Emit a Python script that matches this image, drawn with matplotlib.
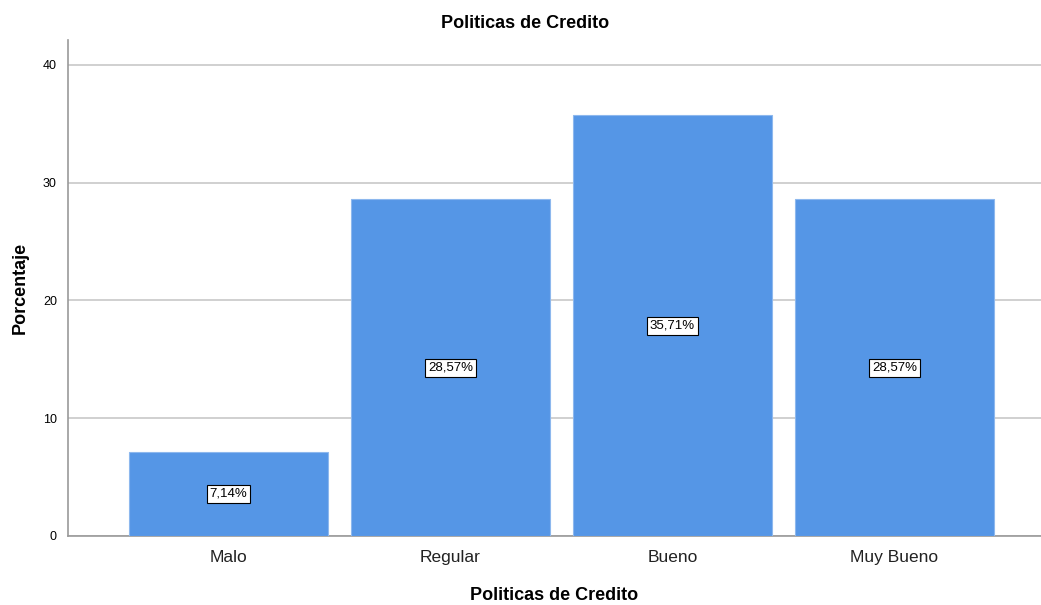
import matplotlib
matplotlib.use("Agg")
import matplotlib.pyplot as plt

plt.rcParams['font.family'] = ['Liberation Sans', 'DejaVu Sans']

categories = ["Malo", "Regular", "Bueno", "Muy Bueno"]
values = [7.14, 28.57, 35.71, 28.57]
labels = ["7,14%", "28,57%", "35,71%", "28,57%"]
yticks = [0, 10, 20, 30, 40]

fig = plt.figure(figsize=(10.41, 6.05), dpi=100)
ax = fig.add_axes([68/1041, 1 - 536/605, 1 - 68/1041, (536 - 40)/605])

x = list(range(len(categories)))
ax.bar(x, values, width=0.896, color="#5596E6", edgecolor="#8DB8EE", linewidth=0.8, zorder=3)

for xi, v, lab in zip(x, values, labels):
    ax.text(xi, v / 2, lab, ha="center", va="center", fontsize=9.5, color="black", zorder=4,
            bbox=dict(boxstyle="square,pad=0.22", facecolor="white", edgecolor="black", linewidth=0.8))

ax.set_xlim(-0.723, 3.66)
ax.set_ylim(0, 42.1)
ax.set_yticks(yticks)
ax.set_yticklabels([str(t) for t in yticks], fontsize=9)
ax.set_xticks(x)
ax.set_xticklabels(categories, fontsize=12.5, color="#222222")
ax.tick_params(axis="both", length=0)
ax.tick_params(axis="y", pad=8)
ax.tick_params(axis="x", pad=10)

ax.yaxis.grid(True, color="#C8C8C8", linewidth=1.2, zorder=0)
ax.set_axisbelow(True)
for s in ["top", "right"]:
    ax.spines[s].set_visible(False)
ax.spines["left"].set_color("#999999")
ax.spines["bottom"].set_color("#999999")
ax.spines["left"].set_linewidth(1.2)
ax.spines["bottom"].set_linewidth(1.2)

ax.set_ylabel("Porcentaje", fontsize=13, fontweight="bold", labelpad=10)
ax.set_xlabel("Politicas de Credito", fontsize=13, fontweight="bold", labelpad=16)
fig.text(525/1041, 1 - 24/605, "Politicas de Credito", ha="center", va="center",
         fontsize=13, fontweight="bold")

fig.savefig("out.png", dpi=100)
